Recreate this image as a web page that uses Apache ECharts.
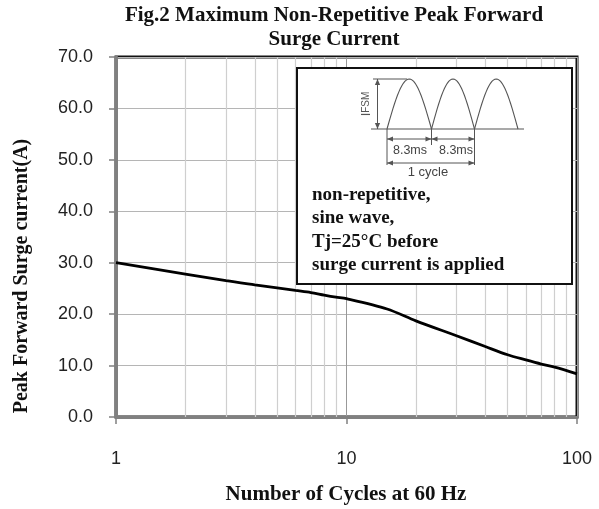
<!DOCTYPE html>
<html>
<head>
<meta charset="utf-8">
<script src="https://cdn.jsdelivr.net/npm/echarts@6/dist/echarts.min.js"></script>
<style>
  html, body { margin: 0; padding: 0; background: #fff; }
  #chart { width: 599px; height: 509px; }
</style>
</head>
<body>
<div id="chart"></div>
<script>
// curve
const cycles = [1, 2, 3, 4, 5, 6, 7, 8, 9, 10, 15, 20, 30, 40, 50, 60, 70, 80, 100];
const surgeCurrent = [30.0, 27.8, 26.5, 25.7, 25.1, 24.6, 24.2, 23.7, 23.3, 23.0, 21.0, 18.7, 15.8, 13.7, 12.1, 11.1, 10.3, 9.7, 8.4];
// minor log grid
const minorCycles = [2, 3, 4, 5, 6, 7, 8, 9, 20, 30, 40, 50, 60, 70, 80, 90];
const noteLines = ["non-repetitive,", "sine wave,", "Tj=25°C before", "surge current is applied"];

const serif = "'Liberation Serif', 'Times New Roman', serif";
const sans = "'Liberation Sans', Arial, sans-serif";
const ink = "#555";

function arrowHead(x, y, dx, dy) {
  // tip at x,y pointing along dx,dy
  const len = 6, w = 2.6;
  const px = -dy, py = dx;
  return {
    type: "polygon", z: 110,
    shape: { points: [[x, y], [x - dx * len + px * w, y - dy * len + py * w], [x - dx * len - px * w, y - dy * len - py * w]] },
    style: { fill: ink }
  };
}
function dblArrow(x1, y1, x2, y2) {
  const d = Math.hypot(x2 - x1, y2 - y1), ux = (x2 - x1) / d, uy = (y2 - y1) / d;
  return [
    { type: "line", z: 110, shape: { x1: x1, y1: y1, x2: x2, y2: y2 }, style: { stroke: ink, lineWidth: 1 } },
    arrowHead(x2, y2, ux, uy),
    arrowHead(x1, y1, -ux, -uy)
  ];
}
function hump(x0, x1, base, h) {
  const pts = [];
  for (let i = 0; i <= 30; i++) {
    const t = i / 30;
    pts.push([x0 + (x1 - x0) * t, base - h * Math.sin(Math.PI * t)]);
  }
  return { type: "polyline", z: 110, shape: { points: pts }, style: { stroke: ink, lineWidth: 1.1, fill: null } };
}
function vline(x, y1, y2) {
  return { type: "line", z: 110, shape: { x1: x, y1: y1, x2: x, y2: y2 }, style: { stroke: ink, lineWidth: 1 } };
}

const base = 129, a0 = 387, a1 = 431.5, a2 = 474.5, a3 = 518;
let inset = [
  { type: "rect", z: 100, shape: { x: 297, y: 68, width: 275, height: 216 }, style: { fill: "#fff", stroke: "#111", lineWidth: 2 } },
  { type: "line", z: 110, shape: { x1: 371, y1: base, x2: 524, y2: base }, style: { stroke: ink, lineWidth: 1.1 } },
  { type: "line", z: 110, shape: { x1: 373, y1: 79, x2: 407, y2: 79 }, style: { stroke: ink, lineWidth: 1 } },
  hump(a0, a1, base, 50), hump(a1, a2, base, 50), hump(a2, a3, base, 50),
  vline(a0, base, 165), vline(a1, base, 145), vline(a2, base, 165),
  {
    type: "text", z: 110, x: 366, y: 104, rotation: Math.PI / 2,
    style: { text: "{a|I}{b|FSM}", rich: { a: { fontSize: 13, fontFamily: sans, fill: ink }, b: { fontSize: 10, fontFamily: sans, fill: ink } }, align: "center", verticalAlign: "middle" }
  },
  { type: "text", z: 110, x: 410, y: 151, style: { text: "8.3ms", font: "12.5px " + sans, fill: "#444", align: "center", verticalAlign: "middle" } },
  { type: "text", z: 110, x: 456, y: 151, style: { text: "8.3ms", font: "12.5px " + sans, fill: "#444", align: "center", verticalAlign: "middle" } },
  { type: "text", z: 110, x: 428, y: 172, style: { text: "1 cycle", font: "13px " + sans, fill: "#444", align: "center", verticalAlign: "middle" } }
];
inset = inset.concat(dblArrow(377.5, 79, 377.5, base), dblArrow(a0, 139, a1, 139), dblArrow(a1, 139, a2, 139), dblArrow(a0, 163, a2, 163));
noteLines.forEach(function (t, i) {
  inset.push({ type: "text", z: 110, x: 312, y: 195 + i * 23.5, style: { text: t, font: "bold 19px " + serif, fill: "#111", align: "left", verticalAlign: "middle" } });
});

const chart = echarts.init(document.getElementById("chart"));
chart.setOption({
  animation: false,
  grid: { left: 116, right: 22, top: 57, bottom: 92, show: true, borderColor: "#111", borderWidth: 3, backgroundColor: "#fff" },
  xAxis: {
    type: "log", logBase: 10, min: 1, max: 100,
    axisLine: { lineStyle: { color: "#808080", width: 3 } },
    axisTick: { show: true, length: 7, lineStyle: { color: "#808080", width: 1.5 } },
    axisLabel: { margin: 33, fontSize: 18, fontFamily: sans, color: "#222" },
    splitLine: { show: true, lineStyle: { color: "#999", width: 1 } },
    minorTick: { show: false }, minorSplitLine: { show: false }
  },
  yAxis: {
    type: "value", min: 0, max: 70, interval: 10,
    axisLine: { show: true, lineStyle: { color: "#808080", width: 3 } },
    axisTick: { show: true, length: 7, lineStyle: { color: "#808080", width: 1.5 } },
    axisLabel: { margin: 23, fontSize: 18, fontFamily: sans, color: "#222", formatter: function (v) { return v.toFixed(1); } },
    splitLine: { show: true, lineStyle: { color: "#b5b5b5", width: 1.2 } }
  },
  series: [
    {
      type: "line", data: [], z: 1, silent: true,
      markLine: {
        silent: true, symbol: "none", animation: false,
        label: { show: false },
        lineStyle: { color: "#cfcfcf", type: "solid", width: 1.2 },
        data: minorCycles.map(function (c) { return { xAxis: c }; })
      }
    },
    {
      type: "line", z: 5, smooth: 0.3, symbol: "none",
      lineStyle: { color: "#000", width: 2.8 },
      data: cycles.map(function (c, i) { return [c, surgeCurrent[i]]; })
    }
  ],
  graphic: [
    { type: "text", x: 334, y: 16, style: { text: "Fig.2 Maximum Non-Repetitive Peak Forward", font: "bold 21px " + serif, fill: "#111", align: "center", verticalAlign: "middle" } },
    { type: "text", x: 334, y: 40, style: { text: "Surge Current", font: "bold 21px " + serif, fill: "#111", align: "center", verticalAlign: "middle" } },
    { type: "text", x: 22, y: 276, rotation: Math.PI / 2, style: { text: "Peak Forward Surge current(A)", font: "bold 20px " + serif, fill: "#111", align: "center", verticalAlign: "middle" } },
    { type: "text", x: 346, y: 495, style: { text: "Number of Cycles at 60 Hz", font: "bold 21px " + serif, fill: "#111", align: "center", verticalAlign: "middle" } }
  ].concat(inset)
});
</script>
</body>
</html>
